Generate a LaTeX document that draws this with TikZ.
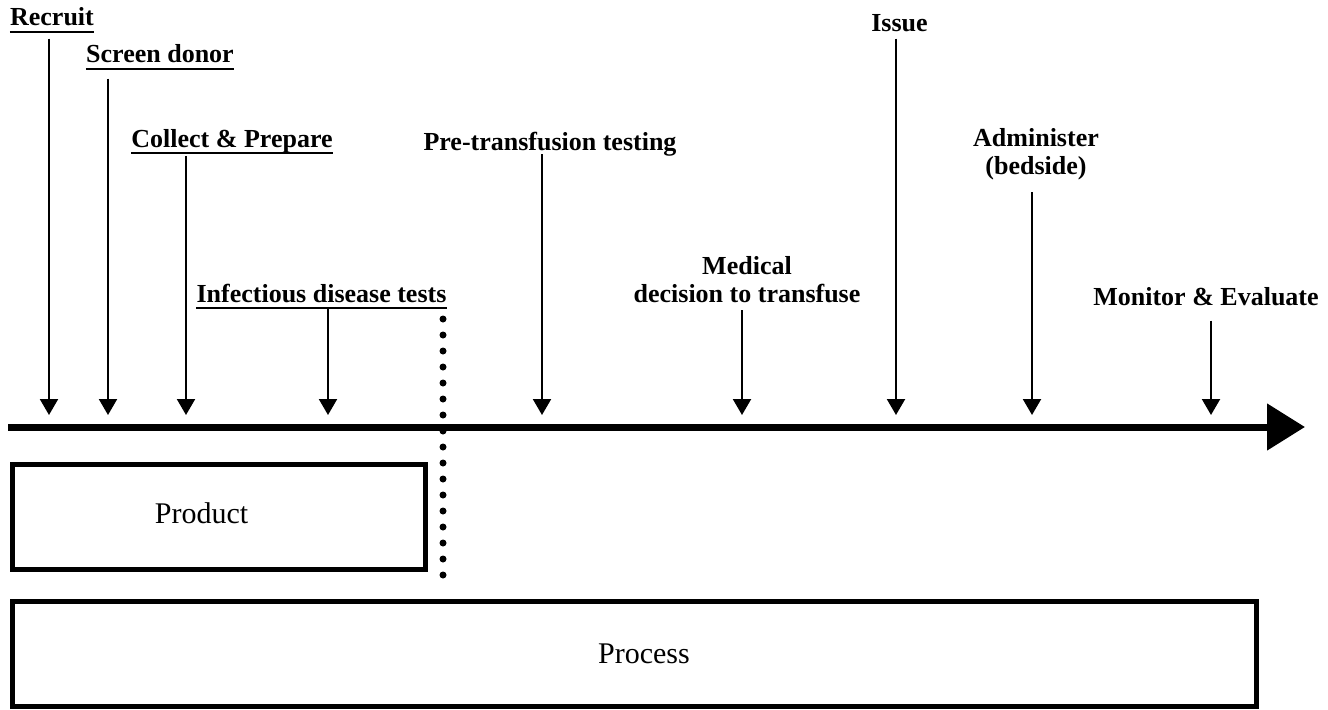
\documentclass[tikz,border=0pt]{standalone}
\usepackage{fontspec}
\setmainfont{Liberation Serif}
\usetikzlibrary{arrows.meta,calc}

\tikzstyle{lbl} = [font=\bfseries\fontsize{19.5}{21}\selectfont, inner sep=0pt, align=center]
\tikzstyle{boxtext} = [font=\fontsize{22.5}{27}\selectfont, inner sep=0pt]
\tikzstyle{frame} = [draw, line width=3.75pt, inner sep=0pt, minimum height=78.75pt]
\tikzstyle{stem} = [line width=1.6pt, -{Triangle[width=13.5pt,length=12pt]}]
\tikzstyle{axis} = [line width=5.25pt, -{Triangle[width=34pt,length=28.5pt]}]
\tikzstyle{uline} = [line width=1.5pt]
\tikzstyle{split} = [line width=5.25pt, line cap=round, dash pattern=on 0pt off 12pt]

\begin{document}
\begin{tikzpicture}[x=0.75pt, y=-0.75pt]
      \useasboundingbox (0,0) rectangle (1328,710);
      \node[lbl, anchor=base] (recruit) at (52,26) {Recruit};
      \node[lbl, anchor=base] (screen) at (160,63) {Screen donor};
      \node[lbl, anchor=base] (collect) at (232,147) {Collect \& Prepare};
      \node[lbl, anchor=base] (infect) at (321.5,302) {Infectious disease tests};
      \node[lbl, anchor=base] (pretest) at (550,150) {Pre-transfusion testing};
      \node[lbl, anchor=south] (decide) at (747,303) {Medical\\decision to transfuse};
      \node[lbl, anchor=base] (issue) at (899.5,32) {Issue};
      \node[lbl, anchor=south] (admin) at (1036,180) {Administer\\(bedside)};
      \node[lbl, anchor=base] (monitor) at (1206,305) {Monitor \& Evaluate};
      \foreach \n in {recruit,screen,collect,infect}
        \draw[uline] ($(\n.base west)+(0,6)$) -- ($(\n.base east)+(0,6)$);
      \foreach \n/\x in {recruit/49, screen/108, collect/186, infect/328, pretest/542, decide/742, issue/896, admin/1032, monitor/1211}
        \coordinate (\n-tip) at (\x,415);
      \foreach \n/\g in {recruit/12, screen/15, collect/3, infect/6, pretest/-2, decide/7, issue/6, admin/12, monitor/15}
        \draw[stem] ($(\n.south -| \n-tip)+(0,\g)$) -- (\n-tip);
      \coordinate (axis-start) at (8,427);
      \coordinate (axis-end) at (1305,427);
      \draw[axis] (axis-start) -- (axis-end);
      \coordinate (split-top) at (443,319);
      \coordinate (split-bot) at (443,580);
      \draw[split] (split-top) -- (split-bot);
      \node[frame, minimum width=309.75pt] (product-box) at (219,517) {};
      \node[boxtext, anchor=base] (product) at (201.5,523) {Product};
      \node[frame, minimum width=933pt] (process-box) at (634.5,654) {};
      \node[boxtext, anchor=base] (process) at (644,663) {Process};
    \end{tikzpicture}
\end{document}
